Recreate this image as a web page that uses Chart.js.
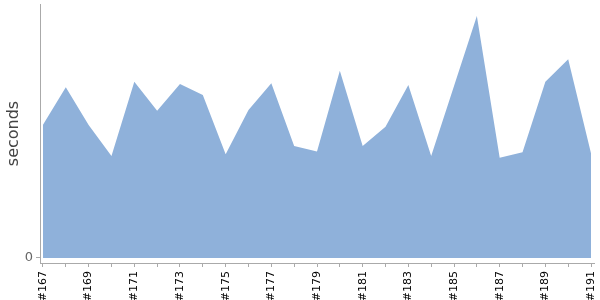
<!DOCTYPE html>
<html><head><meta charset="utf-8">
<script src="https://cdn.jsdelivr.net/npm/chart.js@4/dist/chart.umd.min.js"></script>
<style>html,body{margin:0;padding:0;background:#fff}#wrap{width:600px;height:300px}</style>
</head><body><div id="wrap"><canvas id="c"></canvas></div>
<script>
const builds = ['#167','#168','#169','#170','#171','#172','#173','#174','#175','#176','#177','#178','#179','#180','#181','#182','#183','#184','#185','#186','#187','#188','#189','#190','#191'];
const seconds = [52.4,67.2,52.4,40.2,69.4,58.0,68.5,64.2,40.8,58.3,68.8,44.1,41.9,73.7,44.1,51.7,68.1,40.2,67.7,95.3,39.5,41.6,69.4,78.2,41.2];
const yTickValues = [0];

const points = seconds.map((v, i) => ({x: i, y: v}));
new Chart(document.getElementById('c'), {
  type: 'line',
  data: { datasets: [{
    data: points,
    fill: 'origin',
    backgroundColor: '#8fb1da',
    borderColor: '#8fb1da',
    borderWidth: 0,
    pointRadius: 0,
    tension: 0
  }]},
  options: {
    responsive: true, maintainAspectRatio: false, animation: false,
    layout: { padding: { top: 4, right: 6, left: 0, bottom: 0 } },
    plugins: { legend: { display: false }, tooltip: { enabled: false } },
    scales: {
      x: {
        type: 'linear', min: -0.13, max: builds.length - 1 + 0.13,
        afterBuildTicks: s => { s.ticks = builds.map((b, i) => ({value: i})); },
        afterFit: s => { s.height = 37; s.paddingLeft = 0; s.paddingRight = 0; },
        ticks: {
          autoSkip: false, minRotation: 90, maxRotation: 90, padding: 4,
          color: '#000', font: { family: 'DejaVu Sans', size: 11 },
          callback: (v) => (v % 2 === 0 ? builds[v] : '')
        },
        grid: { drawOnChartArea: false, drawTicks: true, tickLength: 4, color: '#aaa' },
        border: { display: true, color: '#aaa' }
      },
      y: {
        min: -1.97, max: 100,
        afterBuildTicks: s => { s.ticks = yTickValues.map(v => ({value: v})); },
        afterFit: s => { s.width = 40; s.paddingTop = 0; s.paddingBottom = 0; },
        ticks: { color: '#666', font: { family: 'DejaVu Sans', size: 13 }, padding: 3 },
        grid: { drawOnChartArea: false, drawTicks: true, tickLength: 4, color: '#aaa' },
        border: { display: true, color: '#aaa' },
        title: { display: true, text: 'seconds', color: '#444', font: { family: 'DejaVu Sans', size: 16 }, padding: { top: 4, bottom: 0 } }
      }
    }
  }
});
</script></body></html>
